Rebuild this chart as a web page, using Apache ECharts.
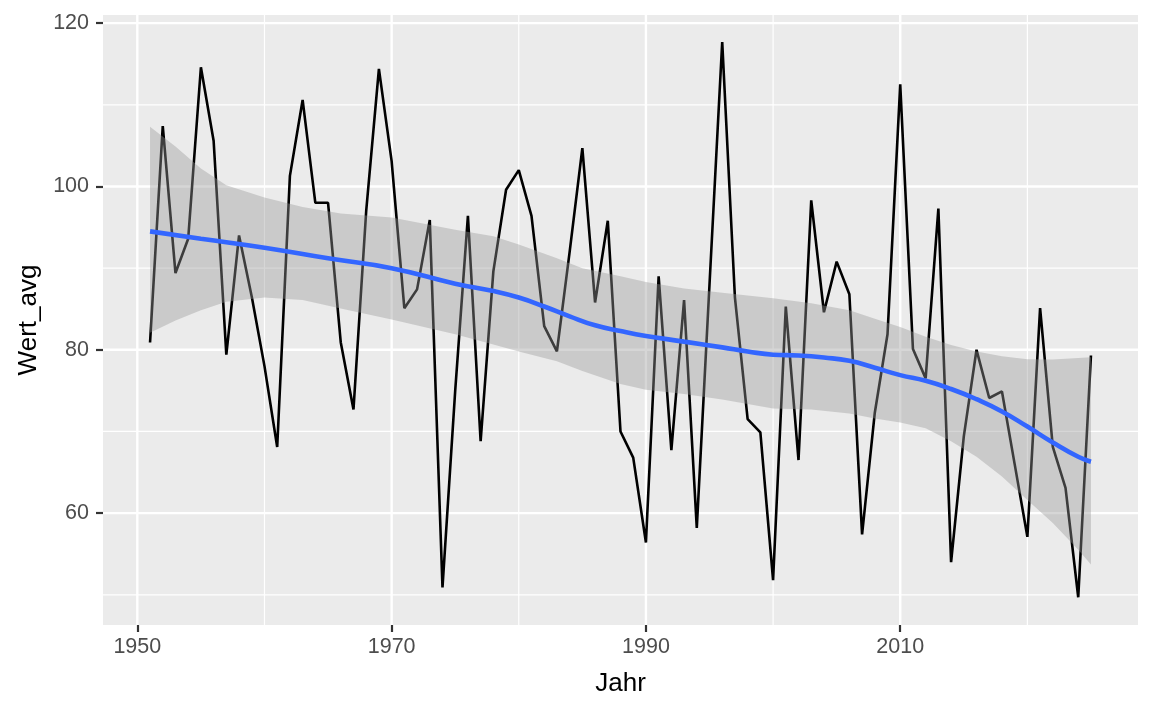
<!DOCTYPE html>
<html>
<head>
<meta charset="utf-8">
<title>Wert_avg nach Jahr</title>
<script src="https://cdn.jsdelivr.net/npm/echarts@6/dist/echarts.min.js"></script>
<style>
  html, body { margin: 0; padding: 0; background: #ffffff; }
  #chart { width: 1152px; height: 711px; }
</style>
</head>
<body>
<div id="chart"></div>
<script>
// Jahreswerte
const years = [
  1951, 1952, 1953, 1954, 1955, 1956, 1957, 1958, 1959, 1960,
  1961, 1962, 1963, 1964, 1965, 1966, 1967, 1968, 1969, 1970,
  1971, 1972, 1973, 1974, 1975, 1976, 1977, 1978, 1979, 1980,
  1981, 1982, 1983, 1984, 1985, 1986, 1987, 1988, 1989, 1990,
  1991, 1992, 1993, 1994, 1995, 1996, 1997, 1998, 1999, 2000,
  2001, 2002, 2003, 2004, 2005, 2006, 2007, 2008, 2009, 2010,
  2011, 2012, 2013, 2014, 2015, 2016, 2017, 2018, 2019, 2020,
  2021, 2022, 2023, 2024, 2025
];
const wertAvg = [
  80.9, 107.4, 89.4, 93.6, 114.6, 105.6, 79.4, 94.0, 86.5, 78.0,
  68.1, 101.3, 110.6, 98.0, 98.0, 80.9, 72.7, 97.0, 114.4, 103.1,
  85.1, 87.4, 95.9, 50.9, 75.0, 96.4, 68.8, 89.6, 99.6, 102.0,
  96.4, 82.9, 79.8, 92.0, 104.7, 85.8, 95.8, 70.0, 66.8, 56.4,
  89.0, 67.7, 86.1, 58.2, 88.0, 117.7, 86.4, 71.5, 69.9, 51.8,
  85.3, 66.5, 98.3, 84.6, 90.8, 86.8, 57.4, 72.3, 81.9, 112.5,
  80.1, 76.5, 97.3, 54.0, 69.4, 80.0, 74.1, 74.9, 66.0, 57.1,
  85.1, 68.1, 63.1, 49.7, 79.3
];

// geglaettete Kurve (loess) und Konfidenzband
const smoothYears = [1951, 1955, 1960, 1965, 1970, 1975, 1978, 1980, 1982, 1984,
  1986, 1988, 1990, 1993, 1996, 1998, 2000, 2002, 2004, 2006,
  2008, 2010, 2012, 2014, 2016, 2018, 2020, 2022, 2024, 2025];
const smoothVals = [94.5, 93.6, 92.5, 91.2, 90.0, 88.1, 87.2, 86.4, 85.3, 84.1,
  83.0, 82.3, 81.7, 81.0, 80.3, 79.8, 79.4, 79.3, 79.05, 78.65,
  77.8, 76.9, 76.2, 75.2, 73.95, 72.45, 70.6, 68.65, 66.9, 66.3];

const bandYears = [1951, 1953, 1955, 1957, 1960, 1963, 1966, 1970, 1975, 1978,
  1980, 1983, 1985, 1988, 1990, 1993, 1996, 2000, 2003, 2006,
  2008, 2010, 2012, 2014, 2016, 2018, 2020, 2022, 2024, 2025];
const bandUpper = [107.3, 104.9, 102.2, 100.15, 98.65, 97.5, 96.7, 96.2, 94.7, 93.9,
  92.9, 91.2, 90.0, 89.0, 88.3, 87.5, 87.0, 86.3, 85.7, 84.85,
  83.8, 82.8, 81.6, 80.6, 79.8, 79.2, 78.85, 78.8, 79.0, 79.1];
const bandLower = [82.1, 83.6, 84.85, 85.9, 86.4, 86.1, 85.05, 83.7, 81.9, 80.65,
  79.8, 78.6, 77.4, 75.8, 75.1, 74.6, 73.9, 72.8, 72.7, 72.2,
  71.6, 71.1, 70.4, 68.8, 66.9, 64.5, 61.6, 58.8, 55.5, 53.7];

// Achsen
const xMajor = [1950, 1970, 1990, 2010];
const xMinor = [1960, 1980, 2000, 2020];
const yMajor = [60, 80, 100, 120];
const yMinor = [50, 70, 90, 110];

const FONT = '"Liberation Sans", Arial, Helvetica, sans-serif';

const chart = echarts.init(document.getElementById('chart'), null, { renderer: 'canvas' });

// Gitterlinien: [wert, 0 = x / 1 = y, 1 = major]
const gridData = [];
xMinor.forEach(v => gridData.push([v, 0, 0]));
yMinor.forEach(v => gridData.push([v, 1, 0]));
xMajor.forEach(v => gridData.push([v, 0, 1]));
yMajor.forEach(v => gridData.push([v, 1, 1]));

function renderGrid(params, api) {
  const cs = params.coordSys;
  const v = api.value(0);
  const isY = api.value(1) === 1;
  const w = api.value(2) === 1 ? 2.4 : 1.2;
  let shape;
  if (isY) {
    const py = api.coord([cs.x, v])[1];
    shape = { x1: cs.x, y1: py, x2: cs.x + cs.width, y2: py };
  } else {
    const px = api.coord([v, 80])[0];
    shape = { x1: px, y1: cs.y, x2: px, y2: cs.y + cs.height };
  }
  return { type: 'line', shape: shape, style: { stroke: '#ffffff', lineWidth: w } };
}

function renderBand(params, api) {
  if (params.dataIndex !== 0) return null;
  const pts = [];
  for (let i = 0; i < bandYears.length; i++) {
    pts.push(api.coord([bandYears[i], bandUpper[i]]));
  }
  for (let i = bandYears.length - 1; i >= 0; i--) {
    pts.push(api.coord([bandYears[i], bandLower[i]]));
  }
  return { type: 'polygon', shape: { points: pts }, style: { fill: 'rgba(153,153,153,0.4)' } };
}

const option = {
  animation: false,
  backgroundColor: '#ffffff',
  grid: {
    left: 103, top: 15, right: 14, bottom: 86,
    show: true, backgroundColor: '#EBEBEB', borderWidth: 0
  },
  xAxis: {
    type: 'value',
    min: 1947.3, max: 2028.7,
    name: 'Jahr', nameLocation: 'middle', nameGap: 46,
    nameTextStyle: { color: '#000000', fontSize: 26, fontFamily: FONT },
    axisLine: { show: false },
    axisTick: { show: true, length: 7, lineStyle: { color: '#333333', width: 2.2 }, customValues: xMajor },
    axisLabel: {
      color: '#4D4D4D', fontSize: 21.5, fontFamily: FONT, margin: 11, customValues: xMajor,
      formatter: v => String(v)
    },
    splitLine: { show: false }
  },
  yAxis: {
    type: 'value',
    min: 46.3, max: 121.0,
    name: 'Wert_avg', nameLocation: 'middle', nameGap: 61,
    nameTextStyle: { color: '#000000', fontSize: 26, fontFamily: FONT },
    axisLine: { show: false },
    axisTick: { show: true, length: 7, lineStyle: { color: '#333333', width: 2.2 }, customValues: yMajor },
    axisLabel: {
      color: '#4D4D4D', fontSize: 21.5, fontFamily: FONT, margin: 14, customValues: yMajor,
      formatter: v => String(v)
    },
    splitLine: { show: false }
  },
  series: [
    {
      name: 'gitter', type: 'custom', z: 1, silent: true,
      data: gridData, renderItem: renderGrid
    },
    {
      name: 'Wert_avg', type: 'line', z: 2,
      data: years.map((y, i) => [y, wertAvg[i]]),
      showSymbol: false, symbol: 'none',
      lineStyle: { color: '#000000', width: 2.6 }
    },
    {
      name: 'band', type: 'custom', z: 3, silent: true,
      data: bandYears.map((y, i) => [y, bandLower[i], bandUpper[i]]),
      renderItem: renderBand
    },
    {
      name: 'loess', type: 'line', z: 4,
      data: smoothYears.map((y, i) => [y, smoothVals[i]]),
      smooth: true, symbol: 'none',
      lineStyle: { color: '#3366FF', width: 4.6 }
    }
  ]
};

chart.setOption(option);
</script>
</body>
</html>
